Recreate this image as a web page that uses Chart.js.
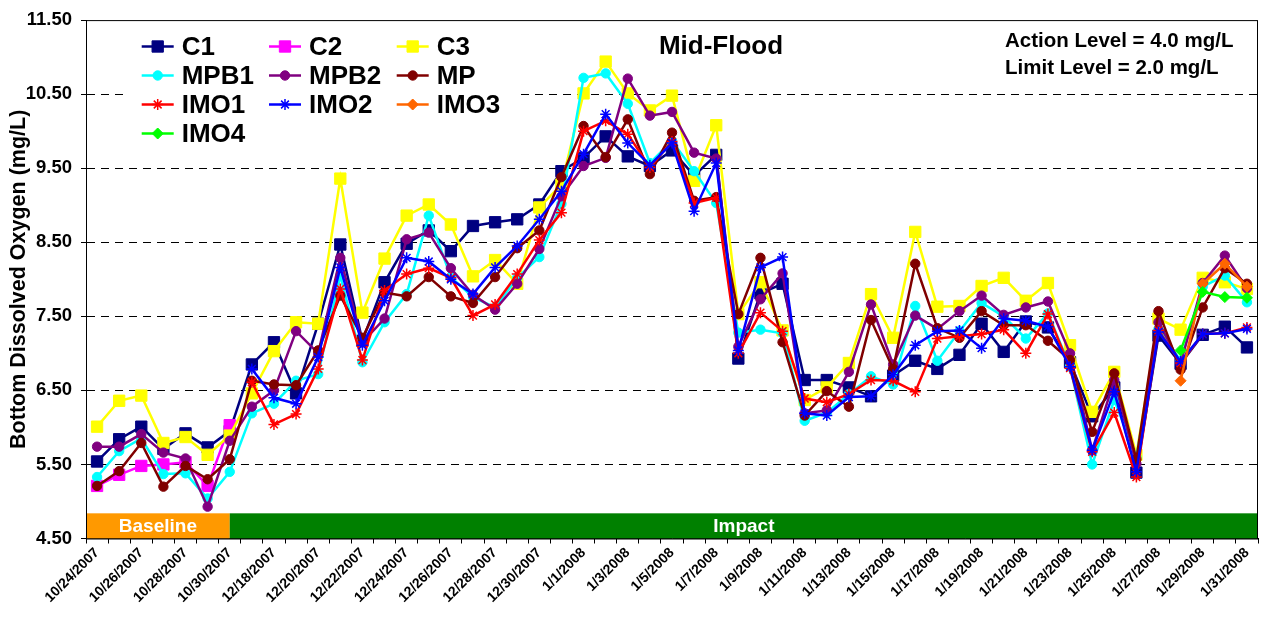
<!DOCTYPE html>
<html>
<head>
<meta charset="utf-8">
<title>Mid-Flood</title>
<script src="https://cdn.jsdelivr.net/npm/chart.js@4.4.0/dist/chart.umd.min.js"></script>
<style>
  html, body { margin: 0; padding: 0; background: #fff; }
  #wrap { width: 1267px; height: 623px; }
</style>
</head>
<body>
<div id="wrap"><canvas id="doChart" width="1267" height="623"></canvas></div>
<script>
const FONT = "'Liberation Sans', Arial, sans-serif";

// Categories (every other one is labelled on the axis)
const dates = [
  '10/24/2007', '10/25/2007', '10/26/2007', '10/27/2007', '10/28/2007', '10/29/2007', '10/30/2007',
  '12/17/2007', '12/18/2007', '12/19/2007', '12/20/2007', '12/21/2007', '12/22/2007', '12/23/2007',
  '12/24/2007', '12/25/2007', '12/26/2007', '12/27/2007', '12/28/2007', '12/29/2007', '12/30/2007',
  '12/31/2007', '1/1/2008', '1/2/2008', '1/3/2008', '1/4/2008', '1/5/2008', '1/6/2008', '1/7/2008',
  '1/8/2008', '1/9/2008', '1/10/2008', '1/11/2008', '1/12/2008', '1/13/2008', '1/14/2008', '1/15/2008',
  '1/16/2008', '1/17/2008', '1/18/2008', '1/19/2008', '1/20/2008', '1/21/2008', '1/22/2008', '1/23/2008',
  '1/24/2008', '1/25/2008', '1/26/2008', '1/27/2008', '1/28/2008', '1/29/2008', '1/30/2008', '1/31/2008'
];

// Bottom dissolved oxygen (mg/L) per station
const c1 = [5.54, 5.84, 6.01, 5.71, 5.92, 5.73, 5.95, 6.85, 7.15, 6.46, 7.40, 8.47, 7.17, 7.96,
  8.48, 8.66, 8.38, 8.72, 8.77, 8.81, 9.01, 9.46, 9.64, 9.93, 9.66, 9.53, 9.74, 9.40, 9.68,
  6.93, 7.81, 7.94, 6.64, 6.64, 6.54, 6.42, 6.70, 6.90, 6.79, 6.98, 7.40, 7.02, 7.43, 7.35,
  6.88, 6.15, 6.54, 5.39, 7.24, 6.86, 7.25, 7.36, 7.08];
const c2 = [5.21, 5.36, 5.48, 5.50, 5.53, 5.21, 6.03].concat(Array(46).fill(null));
const c3 = [6.01, 6.36, 6.43, 5.79, 5.87, 5.63, 5.89, 6.46, 7.03, 7.42, 7.40, 9.36, 7.55, 8.28,
  8.86, 9.01, 8.74, 8.04, 8.26, 7.94, 8.97, 9.28, 10.51, 10.94, 10.51, 10.28, 10.48, 9.33, 10.08,
  7.53, 7.96, 7.31, 6.37, 6.54, 6.87, 7.80, 7.21, 8.64, 7.63, 7.64, 7.91, 8.02, 7.71, 7.95,
  7.11, 6.21, 6.75, 5.63, 7.47, 7.32, 8.02, 7.96, 7.87];
const mpb1 = [5.33, 5.68, 5.85, 5.37, 5.38, 5.04, 5.40, 6.19, 6.32, 6.63, 6.72, 8.05, 6.88, 7.42,
  7.80, 8.86, 8.03, 7.76, 7.62, 8.02, 8.30, 9.02, 10.72, 10.78, 10.37, 9.57, 9.87, 9.46, 9.03,
  7.28, 7.32, 7.27, 6.09, 6.20, 6.45, 6.69, 6.58, 7.64, 6.90, 7.30, 7.68, 7.50, 7.20, 7.54,
  6.82, 5.50, 6.37, 5.60, 7.33, 6.90, 7.90, 8.05, 7.69];
const mpb2 = [5.74, 5.74, 5.91, 5.66, 5.58, 4.93, 5.82, 6.28, 6.50, 7.30, 7.00, 8.29, 7.15, 7.47,
  8.54, 8.63, 8.15, 7.79, 7.59, 7.94, 8.41, 9.12, 9.53, 9.64, 10.71, 10.21, 10.26, 9.71, 9.63,
  7.09, 7.73, 8.08, 6.19, 6.23, 6.75, 7.66, 6.85, 7.51, 7.33, 7.57, 7.78, 7.52, 7.62, 7.70,
  7.00, 5.69, 6.64, 5.51, 7.42, 6.86, 7.95, 8.32, 7.88];
const mp = [5.21, 5.41, 5.79, 5.20, 5.48, 5.30, 5.57, 6.63, 6.58, 6.57, 7.04, 7.78, 7.21, 7.82,
  7.77, 8.03, 7.77, 7.68, 8.03, 8.42, 8.66, 9.38, 10.07, 9.65, 10.16, 9.42, 9.98, 9.06, 9.11,
  7.53, 8.29, 7.15, 6.16, 6.49, 6.28, 7.45, 6.79, 8.21, 7.34, 7.21, 7.57, 7.38, 7.38, 7.17,
  6.91, 5.94, 6.73, 5.57, 7.57, 6.78, 7.62, 8.15, 7.94];
const imo1 = Array(7).fill(null).concat([6.61, 6.04, 6.18, 6.79, 7.87, 6.91, 7.85,
  8.07, 8.15, 8.02, 7.51, 7.66, 8.07, 8.53, 8.90, 10.00, 10.14, 9.96, 9.51, 9.86, 9.03, 9.10,
  7.00, 7.55, 7.30, 6.39, 6.34, 6.45, 6.64, 6.63, 6.48, 7.20, 7.23, 7.26, 7.32, 7.00, 7.53,
  6.80, 5.67, 6.20, 5.33, 7.31, 6.87, 7.26, 7.27, 7.35]);
const imo2 = Array(7).fill(null).concat([6.79, 6.40, 6.32, 6.95, 8.16, 7.11, 7.71,
  8.29, 8.24, 8.00, 7.80, 8.16, 8.45, 8.81, 9.19, 9.69, 10.23, 9.84, 9.54, 9.84, 8.92, 9.57,
  7.04, 8.16, 8.30, 6.19, 6.16, 6.41, 6.42, 6.71, 7.11, 7.30, 7.31, 7.07, 7.47, 7.44, 7.36,
  6.82, 5.69, 6.48, 5.40, 7.29, 6.89, 7.26, 7.27, 7.33]);
const imo3 = Array(49).fill(null).concat([6.63, 7.94, 8.21, 7.90]);
const imo4 = Array(49).fill(null).concat([7.04, 7.83, 7.76, 7.75]);

const seriesNames = ['C1', 'C2', 'C3', 'MPB1', 'MPB2', 'MP', 'IMO1', 'IMO2', 'IMO3', 'IMO4'];
const seriesValues = [c1, c2, c3, mpb1, mpb2, mp, imo1, imo2, imo3, imo4];
const seriesColors = ['#000080', '#FF00FF', '#FFFF00', '#00FFFF', '#800080', '#800000',
  '#FF0000', '#0000FF', '#FF6600', '#00FF00'];
const seriesMarkers = ['rect', 'rect', 'rect', 'circle', 'circle', 'circle',
  'star', 'star', 'rectRot', 'rectRot'];
const markerSize = { rect: 8, circle: 4.7, star: 5.5, rectRot: 5.5 };

// Study phases shown as a strip along the bottom (category index where each ends)
const phaseNames = ['Baseline', 'Impact'];
const phaseEnds = [6, 52];
const phaseColors = ['#FF9900', '#008000'];
const phaseTop = 4.84;

const yTicks = { min: 4.5, max: 11.5, step: 1 };

const datasets = seriesNames.map((name, i) => ({
  label: name,
  data: seriesValues[i],
  borderColor: seriesColors[i],
  backgroundColor: seriesColors[i],
  pointBackgroundColor: seriesColors[i],
  pointBorderColor: seriesColors[i],
  pointStyle: seriesMarkers[i],
  pointRadius: markerSize[seriesMarkers[i]],
  pointBorderWidth: seriesMarkers[i] === 'star' ? 1.5 : 1,
  borderWidth: 2.5,
  tension: 0,
  spanGaps: false,
  order: -i // later stations on top, like the original
}));

// Strip, legend, captions and frame
const overlay = {
  id: 'overlay',
  beforeDatasetsDraw(chart) {
    const { ctx, chartArea, scales: { x, y } } = chart;
    const top = y.getPixelForValue(phaseTop);
    const bottom = chartArea.bottom;
    let start = chartArea.left;
    ctx.save();
    phaseNames.forEach((name, i) => {
      const end = i === phaseNames.length - 1 ? chartArea.right : x.getPixelForValue(phaseEnds[i]);
      ctx.fillStyle = phaseColors[i];
      ctx.fillRect(start, top, end - start, bottom - top);
      ctx.fillStyle = '#fff';
      ctx.font = 'bold 19px ' + FONT;
      ctx.textAlign = 'center';
      ctx.textBaseline = 'middle';
      ctx.fillText(name, (start + end) / 2, (top + bottom) / 2 + 1);
      start = end;
    });
    ctx.restore();
  },
  afterDatasetsDraw(chart) {
    const { ctx } = chart;
    ctx.save();
    // legend box
    const cols = [141.7, 269, 396.7];
    const rowTop = 46.5, rowStep = 29;
    ctx.fillStyle = '#fff';
    ctx.fillRect(128, 28, 392, 120);
    seriesNames.forEach((name, i) => {
      const lx = cols[i % 3];
      const ly = rowTop + Math.floor(i / 3) * rowStep;
      ctx.strokeStyle = seriesColors[i];
      ctx.lineWidth = 2.5;
      ctx.beginPath();
      ctx.moveTo(lx, ly);
      ctx.lineTo(lx + 32, ly);
      ctx.stroke();
      ctx.fillStyle = seriesColors[i];
      ctx.lineWidth = seriesMarkers[i] === 'star' ? 1.5 : 1;
      Chart.helpers.drawPoint(ctx, {
        pointStyle: seriesMarkers[i],
        radius: markerSize[seriesMarkers[i]],
        borderWidth: ctx.lineWidth,
        rotation: 0
      }, lx + 16, ly);
      ctx.fillStyle = '#000';
      ctx.font = 'bold 26px ' + FONT;
      ctx.textAlign = 'left';
      ctx.textBaseline = 'middle';
      ctx.fillText(name, lx + 40, ly + 1);
    });

    // chart title
    ctx.fillStyle = '#000';
    ctx.font = 'bold 26px ' + FONT;
    ctx.textAlign = 'center';
    ctx.textBaseline = 'middle';
    ctx.fillText('Mid-Flood', 721, 47);

    // criteria note
    ctx.font = 'bold 20.5px ' + FONT;
    ctx.textAlign = 'left';
    ctx.fillText('Action Level = 4.0 mg/L', 1005, 41);
    ctx.fillText('Limit Level = 2.0 mg/L', 1005, 68);
    ctx.restore();
  },
  afterDraw(chart) {
    const { ctx, chartArea } = chart;
    ctx.save();
    ctx.strokeStyle = '#000';
    ctx.lineWidth = 1;
    ctx.strokeRect(chartArea.left + 0.5, chartArea.top + 0.5,
      chartArea.right - chartArea.left - 1, chartArea.bottom - chartArea.top);
    ctx.restore();
  }
};

Chart.defaults.font.family = FONT;
Chart.defaults.color = '#000';

const ctx = document.getElementById('doChart').getContext('2d');
const doChart = new Chart(ctx, {
  type: 'line',
  data: { labels: dates, datasets: datasets },
  options: {
    responsive: false,
    animation: false,
    events: [],
    layout: { padding: { left: 0, right: 8, top: 18.5, bottom: 0 } },
    plugins: {
      legend: { display: false },
      title: { display: false },
      tooltip: { enabled: false }
    },
    scales: {
      x: {
        type: 'category',
        offset: true,
        grid: {
          offset: true,
          drawOnChartArea: false,
          drawTicks: true,
          tickLength: 5,
          color: '#000',
          tickColor: '#000'
        },
        border: { display: true, color: '#000', width: 1 },
        ticks: {
          autoSkip: false,
          minRotation: 45,
          maxRotation: 45,
          padding: 1,
          color: '#000',
          font: { size: 14, weight: 'bold' },
          callback: function (value, index) {
            return index % 2 === 0 ? this.getLabelForValue(value) : '';
          }
        },
        afterFit: (scale) => { scale.height = 84.5; }
      },
      y: {
        min: yTicks.min,
        max: yTicks.max,
        ticks: {
          stepSize: yTicks.step,
          padding: 9,
          color: '#000',
          font: { size: 18.5, weight: 'bold' },
          callback: (v) => Number(v).toFixed(2)
        },
        grid: {
          color: (c) => (c.tick && (c.tick.value === yTicks.min || c.tick.value === yTicks.max))
            ? 'rgba(0,0,0,0)' : '#000',
          lineWidth: 1,
          drawTicks: true,
          tickLength: 5,
          tickColor: '#000'
        },
        border: { display: true, color: '#000', width: 1, dash: [8, 6] },
        title: {
          display: true,
          text: 'Bottom Dissolved Oxygen (mg/L)',
          color: '#000',
          font: { size: 21.5, weight: 'bold' },
          padding: { top: 6, bottom: 0 }
        },
        afterFit: (scale) => { scale.width = 86; }
      }
    }
  },
  plugins: [overlay]
});
</script>
</body>
</html>
